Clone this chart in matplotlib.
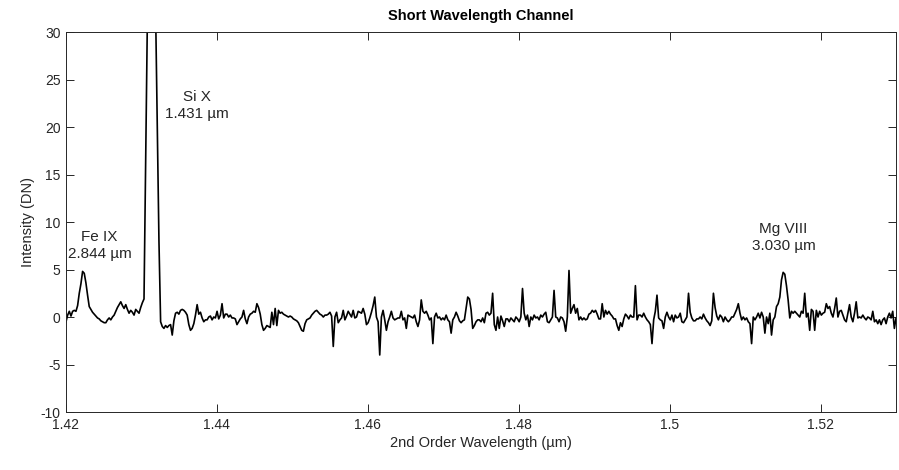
import matplotlib
matplotlib.use("Agg")
import matplotlib.pyplot as plt
import numpy as np

plt.rcParams['font.family'] = ['Liberation Sans', 'DejaVu Sans']
plt.rcParams['axes.unicode_minus'] = False

# spectrum sampled every 0.00022 um starting at 1.42 um
wl_start = 1.42
wl_step = 0.00022
intensity = [
    -0.5, 0.2, 0.6, 0.1, 0.6, 0.7, 0.6, 1.2, 2.5, 3.5,
    4.8, 4.6, 3.6, 2.3, 1.1, 0.8, 0.5, 0.3, 0.1, -0.1,
    -0.2, -0.4, -0.5, -0.6, -0.6, -0.3, -0.1, -0.3, 0.0, 0.2,
    0.6, 1.0, 1.3, 1.6, 1.2, 0.9, 1.3, 0.8, 0.4, 0.7,
    0.5, 0.2, 0.8, 0.6, 0.4, 1.0, 1.5, 1.9, 16, 31,
    46, 60, 57, 45, 32, 20, 8, -0.5, -1.0, -1.2,
    -0.9, -1.1, -0.9, -0.8, -1.9, -0.4, 0.4, 0.5, 0.3, 0.7,
    0.8, 0.7, 0.5, 0.2, -0.8, -1.4, -1.2, -0.7, 0.2, 1.3,
    0.3, 0.5, -0.1, -0.5, -0.3, -0.3, 0.0, 0.1, -0.3, 0.0,
    -0.1, 0.6, -0.2, 0.2, 1.4, -0.1, 0.3, 0.3, 0.0, 0.2,
    -0.1, -0.1, -0.2, -0.8, -0.5, -0.2, 0.0, 0.7, -0.2, -0.7,
    0.0, 0.3, 0.4, 0.6, 0.5, 1.4, 1.0, 0.3, -0.8, -1.4,
    -1.2, -0.9, -1.0, -1.1, 0.5, -0.8, 0.9, -0.9, 0.7, 0.4,
    0.5, 0.3, 0.2, 0.1, 0.0, 0.1, 0.0, -0.2, -0.3, -0.4,
    -0.6, -1.0, -1.4, -1.5, -0.7, -0.3, -0.2, -0.1, 0.2, 0.4,
    0.6, 0.7, 0.5, 0.3, 0.2, 0.0, 0.2, 0.2, 0.3, 0.5,
    0.1, -3.1, 0.0, 0.5, -0.6, -0.3, -0.1, 0.7, -0.3, 0.1,
    0.6, 0.3, 0.0, 0.7, -0.1, 0.0, 0.6, 0.5, 0.4, 0.9,
    0.3, -0.8, -0.6, -0.1, 0.5, 1.2, 2.1, 0.0, -0.5, -4.0,
    0.0, 0.7, -0.3, -1.4, -0.5, 0.0, 0.6, -0.1, -0.3, -0.2,
    -0.1, -0.1, 0.6, -0.3, -0.1, -1.2, 0.2, 0.1, 0.0, -0.1,
    0.2, -0.5, -1.0, -0.3, 1.8, 0.6, 0.4, 0.6, 0.2, -0.3,
    -0.1, -2.8, 0.0, 0.4, -0.1, 0.0, -0.3, -0.1, -0.3, 0.2,
    -0.3, -0.5, -1.7, -0.3, 0.0, 0.5, 0.1, -0.4, -0.6, -0.4,
    -0.3, 0.9, 2.1, 1.9, 0.8, -1.2, -0.9, -0.5, -0.3, -0.3,
    -0.5, -0.1, -0.6, 0.4, 0.5, 0.2, 0.4, 2.5, -0.8, -1.4,
    0.0, -1.2, 0.1, -0.4, -1.0, -0.2, -0.2, -0.5, -0.1, -0.3,
    -0.5, 0.0, -0.2, -0.5, 0.0, 3.0, 0.4, -0.3, 0.2, -1.0,
    0.0, -0.3, 0.2, -0.1, 0.0, -0.3, 0.2, 0.0, 0.3, 0.5,
    -0.5, -0.6, -0.3, 0.0, 2.8, 0.0, -0.1, -0.5, 0.0, -0.1,
    -0.5, -1.5, 0.0, 4.9, 0.4, 0.9, 1.3, 0.4, 0.9, -0.3,
    0.0, -0.3, -0.1, -0.3, -0.2, 0.3, 0.4, 0.7, 0.5, 0.7,
    0.3, -0.2, -0.2, 1.4, 0.0, 0.7, 0.3, 0.6, 0.3, 0.1,
    -0.2, -0.2, -0.9, -1.4, -0.6, -1.0, -0.2, 0.3, 0.1, -0.2,
    0.2, 0.0, 0.0, 3.3, -0.3, 0.2, 0.2, 0.0, 0.4, 0.0,
    -0.3, -0.5, -0.8, -2.8, -0.3, 0.6, 2.3, -0.1, -0.3, -0.4,
    -1.2, 0.0, 0.5, 0.0, -0.3, 0.2, -0.5, 0.2, -0.1, 0.0,
    0.4, -0.5, -0.6, -0.3, 0.0, 2.5, 0.5, -0.1, -0.4, -0.4,
    -0.2, -0.2, 0.0, -0.2, 0.3, -0.1, -0.4, -0.6, -0.9, -0.4,
    2.5, 1.0, 0.1, -0.3, 0.2, 0.0, -0.5, 0.0, -0.3, -0.5,
    -0.3, 0.0, 0.0, 0.4, 0.8, 1.4, 0.4, -0.3, 0.0, -0.3,
    -0.1, -0.5, -0.7, -2.8, 0.0, -0.3, 0.0, 0.4, -0.1, 0.5,
    0.0, -1.7, 0.0, -0.7, 0.4, -1.9, -0.3, 0.0, 1.1, 1.4,
    2.1, 3.9, 4.7, 4.5, 3.3, 1.8, -0.1, 0.6, 0.4, 0.6,
    0.4, 0.2, 0.0, 0.6, 0.4, 2.5, 0.0, 0.4, -1.4, 0.8,
    0.6, -1.4, 0.7, 0.0, 0.6, 0.2, 0.4, 0.5, 1.4, 0.9,
    1.1, 0.4, 0.0, 0.9, 2.0, 0.0, 0.6, 0.7, 0.2, -0.3,
    -0.5, 0.4, 1.3, 0.0, -0.5, 0.4, 1.6, -0.1, 0.0, -0.1,
    0.2, -0.1, -0.3, 0.0, -0.1, -0.3, 0.6, -0.5, -0.3, -0.7,
    -0.3, -0.8, -0.3, -0.1, -0.7, 0.0, 0.4, -0.1, 0.6, -1.2,
    -0.1,
]
wavelength = wl_start + wl_step * np.arange(len(intensity))

line_names = ['Fe IX\n2.844 µm', 'Si X\n1.431 µm', 'Mg VIII\n3.030 µm']
line_x = [1.42443, 1.43735, 1.5151]
line_y = [7.5, 22.3, 8.4]

xticks = [1.42, 1.44, 1.46, 1.48, 1.5, 1.52]
xticklabels = ['1.42', '1.44', '1.46', '1.48', '1.5', '1.52']
yticks = [-10, -5, 0, 5, 10, 15, 20, 25, 30]

fig = plt.figure(figsize=(8.99, 4.70), dpi=100)
ax = fig.add_axes([0.0734, 0.1234, 0.9233, 0.8085])

ax.plot(wavelength, intensity, color='black', linewidth=1.2)

for name, x, y in zip(line_names, line_x, line_y):
    ax.text(x, y, name, ha='center', va='center', fontsize=11,
            color='0.15', linespacing=1.25)

ax.set_xlim(1.42, 1.53)
ax.set_ylim(-10, 30)
ax.set_xticks(xticks)
ax.set_xticklabels(xticklabels)
ax.set_yticks(yticks)
ax.tick_params(direction='in', length=5.5, width=0.7, top=True, right=True,
               labelsize=10, colors='0.15', pad=4)
for s in ax.spines.values():
    s.set_color('0.15')
    s.set_linewidth(0.7)

ax.set_title('Short Wavelength Channel', fontsize=10.5, fontweight='bold',
             color='black', pad=9)
ax.set_xlabel('2nd Order Wavelength (µm)', fontsize=10.5, color='0.15', labelpad=3)
ax.set_ylabel('Intensity (DN)', fontsize=10.5, color='0.15', labelpad=4)

fig.savefig('out.png', dpi=100)
